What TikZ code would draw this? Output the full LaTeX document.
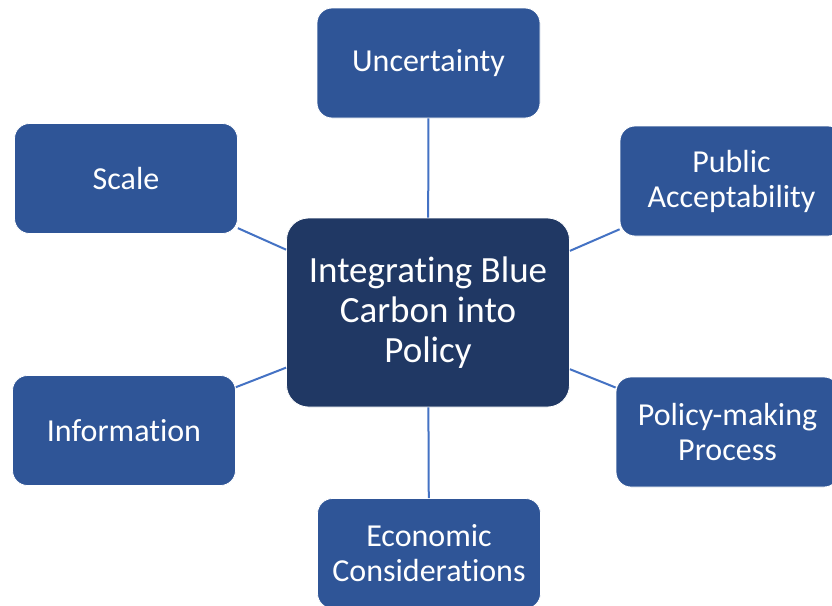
\documentclass[tikz,border=0pt]{standalone}
\usepackage{fontspec}
\setmainfont[Ligatures=NoCommon]{Carlito}
\definecolor{boxblue}{HTML}{2F5597}
\definecolor{coreblue}{HTML}{203864}
\definecolor{linkblue}{HTML}{4472C4}
\begin{document}
\begin{tikzpicture}[x=1pt,y=-1pt,
  topic/.style={fill=boxblue, draw=white, line width=0.8pt, rounded corners=15pt,
    minimum width=223pt, minimum height=110pt, inner sep=0pt, align=center,
    text=white, font=\fontsize{32}{35}\selectfont},
  core/.style={fill=coreblue, draw=white, line width=0.8pt, rounded corners=22pt,
    minimum width=283pt, minimum height=189pt, inner sep=0pt, align=center,
    text=white, font=\fontsize{37}{40}\selectfont},
  link/.style={draw=linkblue, line width=2pt}]
\useasboundingbox (0,0) rectangle (832,605);
\clip (0,0) rectangle (832,605);
\fill[white] (0,0) rectangle (832,605);

\node[core] (hub) at (428,312.5) {Integrating Blue\\Carbon into\\Policy};

\node[topic] (unc)  at (428.5,63)  {Uncertainty};
\node[topic] (scl)  at (126,178.5) {Scale};
\node[topic] (pub)  at (731.5,181) {Public\\Acceptability};
\node[topic] (inf)  at (124,430.5) {Information};
\node[topic] (pol)  at (727.5,432) {Policy-making\\Process};
\node[topic] (eco)  at (429,553.5) {Economic\\Considerations};

\draw[link] (hub) -- (unc);
\draw[link] (hub) -- (scl);
\draw[link] (hub) -- (pub);
\draw[link] (hub) -- (inf);
\draw[link] (hub) -- (pol);
\draw[link] (hub) -- (eco);
\end{tikzpicture}
\end{document}
